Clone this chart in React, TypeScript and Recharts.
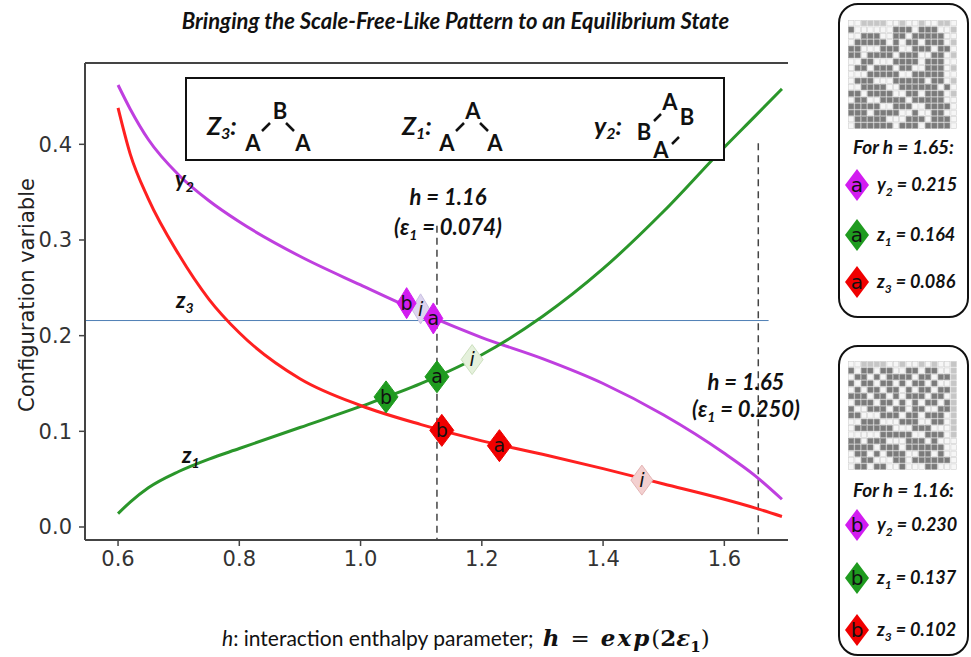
import React from 'react';
import { ComposedChart, Line, Scatter, XAxis, YAxis, ReferenceLine } from 'recharts';

// h 값과 세 가지 구성 변수 곡선
const hVals = [0.6, 0.62, 0.65, 0.7, 0.75, 0.8, 0.9, 1.0, 1.1, 1.2, 1.3, 1.4, 1.5, 1.6, 1.65, 1.695];
const y2Vals = [0.462, 0.437, 0.405, 0.368, 0.341, 0.319, 0.283, 0.253, 0.224, 0.198, 0.176, 0.15, 0.117, 0.077, 0.054, 0.029];
const z1Vals = [0.014, 0.026, 0.041, 0.058, 0.071, 0.082, 0.104, 0.126, 0.15, 0.18, 0.22, 0.27, 0.33, 0.397, 0.429, 0.458];
const z3Vals = [0.438, 0.39, 0.343, 0.285, 0.238, 0.203, 0.155, 0.127, 0.107, 0.09, 0.076, 0.061, 0.045, 0.029, 0.02, 0.011];

// 마커 (a, b, i)
const purpleMarks = [
  { h: 1.076, v: 0.234, tag: 'b' },
  { h: 1.12, v: 0.218, tag: 'a' },
];
const greenMarks = [
  { h: 1.042, v: 0.136, tag: 'b' },
  { h: 1.126, v: 0.157, tag: 'a' },
];
const redMarks = [
  { h: 1.134, v: 0.101, tag: 'b' },
  { h: 1.229, v: 0.085, tag: 'a' },
];
const purpleI = [{ h: 1.099, v: 0.228, tag: 'i' }];
const greenI = [{ h: 1.184, v: 0.175, tag: 'i' }];
const redI = [{ h: 1.464, v: 0.049, tag: 'i' }];

const xTicks = [0.6, 0.8, 1.0, 1.2, 1.4, 1.6];
const yTicks = [0.0, 0.1, 0.2, 0.3, 0.4];
const xDomain = [0.5455, 1.705];
const yDomain = [-0.0136, 0.485];

const hLow = 1.126; // 점선 (h = 1.16 표시)
const hLowTop = 0.315;
const hHigh = 1.656; // 점선 (h = 1.65 표시)
const hHighTop = 0.401;
const refY = 0.2158; // 수평선
const refYEnd = 1.673;

// 격자 그림 (1 = 진한 칸, 0 = 밝은 칸, 2 = 회색)
const grid165 = [
  '00222200200200220',
  '10000001110111002',
  '00111001101111100',
  '01111101011011102',
  '11000111001110110',
  '11011110111001102',
  '00110001111011100',
  '01101110110011102',
  '00011111001111100',
  '01110001111101102',
  '00111100111111010',
  '11011110011011102',
  '01100111101111100',
  '11111001110011110',
  '11101111001001100',
  '01111100011101110',
  '01111110111011110',
];
const grid116 = [
  '00222200200202002',
  '10110110011011002',
  '01101011110110112',
  '10110110101101002',
  '01011011010110112',
  '11101101011101102',
  '01110110101011012',
  '10011101101100112',
  '11000111011011102',
  '00111000111001102',
  '01111110001110002',
  '00000111110011102',
  '11011100011101000',
  '11110111011111100',
  '01101011100110100',
  '00110001101111110',
  '01101100100011000',
];

const legend165 = [
  { name: 'y', sub: '2', val: '0.215', color: '#d21cf0', tag: 'a' },
  { name: 'z', sub: '1', val: '0.164', color: '#1f9b1f', tag: 'a' },
  { name: 'z', sub: '3', val: '0.086', color: '#f00000', tag: 'a' },
];
const legend116 = [
  { name: 'y', sub: '2', val: '0.230', color: '#d21cf0', tag: 'b' },
  { name: 'z', sub: '1', val: '0.137', color: '#1f9b1f', tag: 'b' },
  { name: 'z', sub: '3', val: '0.102', color: '#f00000', tag: 'b' },
];

const chartData = hVals.map((h, i) => ({ h, y2: y2Vals[i], z1: z1Vals[i], z3: z3Vals[i] }));

const CAL = 'Lato, "Liberation Sans", sans-serif';

const diamond = (fill: string, stroke: string, w: number, ht: number) => (props: any) => {
  const { cx, cy, payload } = props;
  if (cx == null || cy == null) return <g />;
  return (
    <g>
      <polygon
        points={`${cx},${cy - ht / 2} ${cx + w / 2},${cy} ${cx},${cy + ht / 2} ${cx - w / 2},${cy}`}
        fill={fill}
        stroke={stroke}
        strokeWidth={1}
      />
      <text
        x={cx}
        y={cy}
        dy="0.35em"
        textAnchor="middle"
        fontSize={19}
        fontFamily="DejaVu Sans"
        fontStyle={payload.tag === 'i' ? 'italic' : 'normal'}
        fill="#111"
      >
        {payload.tag}
      </text>
    </g>
  );
};

const GridPic = ({ rows, left, top }: { rows: string[]; left: number; top: number }) => {
  const cell = 6.4;
  return (
    <svg style={{ position: 'absolute', left, top }} width={rows[0].length * cell} height={rows.length * cell}>
      {rows.map((r, ri) =>
        r.split('').map((c, ci) => (
          <rect
            key={`${ri}-${ci}`}
            x={ci * cell + 0.5}
            y={ri * cell + 0.5}
            width={cell - 1}
            height={cell - 1}
            fill={c === '1' ? '#7b7b7b' : c === '2' ? '#c6c6c6' : '#f6f6f6'}
            stroke={c === '1' ? '#999' : '#cfcfcf'}
            strokeWidth={0.6}
          />
        ))
      )}
    </svg>
  );
};

const LegendItem = ({ item, top }: { item: any; top: number }) => (
  <div style={{ position: 'absolute', left: 845, top: top - 16, height: 32, width: 125 }}>
    <svg width={26} height={32} style={{ position: 'absolute', left: 0, top: 0 }}>
      <polygon points="12,0 24,16 12,32 0,16" fill={item.color} />
      <text x={12} y={16} dy="0.35em" textAnchor="middle" fontSize={20} fontFamily="DejaVu Sans" fill="#111">
        {item.tag}
      </text>
    </svg>
    <div
      style={{
        position: 'absolute',
        left: 32,
        top: 4,
        fontFamily: CAL,
        fontWeight: 'bold',
        fontStyle: 'italic',
        fontSize: 18,
        whiteSpace: 'nowrap',
        color: '#111',
      }}
    >
      {item.name}
      <sub style={{ fontSize: 12 }}>{item.sub}</sub> = {item.val}
    </div>
  </div>
);

const Panel = ({ top, height }: { top: number; height: number }) => (
  <div
    style={{
      position: 'absolute',
      left: 838,
      top,
      width: 131,
      height,
      border: '2.5px solid #111',
      borderRadius: 20,
      boxSizing: 'border-box',
      background: '#fff',
    }}
  />
);

const txt = (extra: React.CSSProperties): React.CSSProperties => ({
  position: 'absolute',
  fontFamily: CAL,
  fontWeight: 'bold',
  fontStyle: 'italic',
  whiteSpace: 'nowrap',
  color: '#111',
  ...extra,
});

export default function App() {
  return (
    <div style={{ position: 'absolute', left: 0, top: 0, width: 971, height: 657, background: '#fff', overflow: 'hidden' }}>
      <div style={txt({ left: 0, top: 7, width: 911, textAlign: 'center', fontSize: 22 })}>
        Bringing the Scale-Free-Like Pattern to an Equilibrium State
      </div>

      <div style={{ position: 'absolute', left: 0, top: 0 }}>
        <ComposedChart width={830} height={600} data={chartData} margin={{ top: 63, right: 42, bottom: 30, left: 45 }}>
          <XAxis
            dataKey="h"
            type="number"
            domain={xDomain}
            ticks={xTicks}
            allowDataOverflow
            axisLine={{ stroke: '#444', strokeWidth: 2 }}
            tickLine={{ stroke: '#444', strokeWidth: 1.5 }}
            tickSize={6}
            tickMargin={5}
            height={30}
            tickFormatter={(v: number) => v.toFixed(1)}
            tick={{ fill: '#333', fontSize: 21, fontFamily: 'DejaVu Sans' }}
          />
          <YAxis
            type="number"
            domain={yDomain}
            ticks={yTicks}
            allowDataOverflow
            axisLine={{ stroke: '#444', strokeWidth: 2 }}
            tickLine={{ stroke: '#444', strokeWidth: 1.5 }}
            tickSize={6}
            tickMargin={7}
            width={40}
            tickFormatter={(v: number) => v.toFixed(1)}
            tick={{ fill: '#333', fontSize: 21, fontFamily: 'DejaVu Sans' }}
          />
          <ReferenceLine
            segment={[{ x: xDomain[0], y: yDomain[1] }, { x: xDomain[1], y: yDomain[1] }]}
            stroke="#444"
            strokeWidth={2}
          />
          <ReferenceLine
            segment={[{ x: xDomain[0], y: refY }, { x: refYEnd, y: refY }]}
            stroke="#4f7fb5"
            strokeWidth={1}
          />
          <ReferenceLine
            segment={[{ x: hLow, y: hLowTop }, { x: hLow, y: yDomain[0] }]}
            stroke="#444"
            strokeWidth={1.5}
            strokeDasharray="7 5"
          />
          <ReferenceLine
            segment={[{ x: hHigh, y: hHighTop }, { x: hHigh, y: yDomain[0] }]}
            stroke="#444"
            strokeWidth={1.5}
            strokeDasharray="7 5"
          />
          <Line dataKey="y2" type="monotone" stroke="#bf3fdf" strokeWidth={3} dot={false} isAnimationActive={false} />
          <Line dataKey="z1" type="monotone" stroke="#2a962a" strokeWidth={3} dot={false} isAnimationActive={false} />
          <Line dataKey="z3" type="monotone" stroke="#ff2020" strokeWidth={3} dot={false} isAnimationActive={false} />
          <Scatter data={purpleI} dataKey="v" shape={diamond('#ddd5ef', '#c9c0e2', 18, 30)} isAnimationActive={false} />
          <Scatter data={greenI} dataKey="v" shape={diamond('#e5f1dc', '#cde0bf', 22, 30)} isAnimationActive={false} />
          <Scatter data={redI} dataKey="v" shape={diamond('#f3d0d0', '#e4b4b4', 22, 30)} isAnimationActive={false} />
          <Scatter data={purpleMarks} dataKey="v" shape={diamond('#d21cf0', '#d21cf0', 19, 31)} isAnimationActive={false} />
          <Scatter data={greenMarks} dataKey="v" shape={diamond('#1f9b1f', '#1f9b1f', 24, 32)} isAnimationActive={false} />
          <Scatter data={redMarks} dataKey="v" shape={diamond('#f00000', '#f00000', 24, 32)} isAnimationActive={false} />
        </ComposedChart>
      </div>

      {/* 축 제목 */}
      <div
        style={{
          position: 'absolute',
          left: 27,
          top: 295,
          transform: 'translate(-50%, -50%) rotate(-90deg)',
          fontFamily: 'DejaVu Sans',
          fontSize: 21,
          color: '#222',
          whiteSpace: 'nowrap',
        }}
      >
        Configuration variable
      </div>
      <div style={{ position: 'absolute', left: 222, top: 624, fontFamily: CAL, fontSize: 21, color: '#111', whiteSpace: 'nowrap' }}>
        <i>h</i>: interaction enthalpy parameter;{' '}
        <span style={{ fontFamily: '"DejaVu Serif", serif', fontSize: 23, marginLeft: 4 }}>
          <b><i>h</i></b>
          <span style={{ margin: '0 11px' }}>=</span>
          <b><i style={{ letterSpacing: 2 }}>exp</i></b>(<b>2</b><b><i>ε</i></b>
          <sub style={{ fontSize: 15 }}><b>1</b></sub>)
        </span>
      </div>

      {/* 곡선 이름 */}
      <div style={txt({ left: 175, top: 165, fontSize: 22 })}>
        y<sub style={{ fontSize: 14 }}>2</sub>
      </div>
      <div style={txt({ left: 176, top: 286, fontSize: 22 })}>
        z<sub style={{ fontSize: 14 }}>3</sub>
      </div>
      <div style={txt({ left: 182, top: 441, fontSize: 22 })}>
        z<sub style={{ fontSize: 14 }}>1</sub>
      </div>

      {/* 점선 주석 */}
      <div style={txt({ left: 343, top: 182, width: 210, textAlign: 'center', fontSize: 22, lineHeight: '30px' })}>
        h = 1.16
        <br />
        (ε<sub style={{ fontSize: 14 }}>1</sub> = 0.074)
      </div>
      <div style={txt({ left: 641, top: 368, width: 210, textAlign: 'center', fontSize: 22, lineHeight: '27px' })}>
        h = 1.65
        <br />
        (ε<sub style={{ fontSize: 14 }}>1</sub> = 0.250)
      </div>

      {/* 구조 상자 */}
      <div
        style={{
          position: 'absolute',
          left: 185,
          top: 77,
          width: 540,
          height: 84,
          border: '2.5px solid #111',
          boxSizing: 'border-box',
          background: '#fff',
        }}
      />
      <svg style={{ position: 'absolute', left: 0, top: 0 }} width={971} height={200}>
        <g fontFamily={CAL} fontWeight="bold" fill="#111">
          <text x={207} y={135} fontSize={25} fontStyle="italic">
            Z<tspan fontSize={16} dy={4}>3</tspan>
            <tspan dy={-4}>:</tspan>
          </text>
          <text x={280} y={119} fontSize={22} textAnchor="middle">B</text>
          <text x={253} y={151} fontSize={22} textAnchor="middle">A</text>
          <text x={303} y={151} fontSize={22} textAnchor="middle">A</text>
          <line x1={262} y1={131} x2={270} y2={123} stroke="#111" strokeWidth={2.5} />
          <line x1={286} y1={123} x2={294} y2={131} stroke="#111" strokeWidth={2.5} />

          <text x={402} y={135} fontSize={25} fontStyle="italic">
            Z<tspan fontSize={16} dy={4}>1</tspan>
            <tspan dy={-4}>:</tspan>
          </text>
          <text x={473} y={119} fontSize={22} textAnchor="middle">A</text>
          <text x={447} y={151} fontSize={22} textAnchor="middle">A</text>
          <text x={495} y={151} fontSize={22} textAnchor="middle">A</text>
          <line x1={456} y1={131} x2={464} y2={123} stroke="#111" strokeWidth={2.5} />
          <line x1={480} y1={123} x2={488} y2={131} stroke="#111" strokeWidth={2.5} />

          <text x={594} y={135} fontSize={25} fontStyle="italic">
            y<tspan fontSize={16} dy={4}>2</tspan>
            <tspan dy={-4}>:</tspan>
          </text>
          <text x={670} y={110} fontSize={22} textAnchor="middle">A</text>
          <text x={687} y={125} fontSize={22} textAnchor="middle">B</text>
          <text x={644} y={140} fontSize={22} textAnchor="middle">B</text>
          <text x={661} y={158} fontSize={22} textAnchor="middle">A</text>
          <line x1={654} y1={121} x2={661} y2={114} stroke="#111" strokeWidth={2.5} />
          <line x1={679} y1={137} x2={672} y2={144} stroke="#111" strokeWidth={2.5} />
        </g>
      </svg>

      {/* 오른쪽 패널 */}
      <Panel top={3} height={315} />
      <GridPic rows={grid165} left={848} top={20} />
      <div style={txt({ left: 838, top: 135, width: 131, textAlign: 'center', fontSize: 19 })}>For h = 1.65:</div>
      <LegendItem item={legend165[0]} top={185} />
      <LegendItem item={legend165[1]} top={235} />
      <LegendItem item={legend165[2]} top={282} />

      <Panel top={345} height={311} />
      <GridPic rows={grid116} left={848} top={361} />
      <div style={txt({ left: 838, top: 478, width: 131, textAlign: 'center', fontSize: 19 })}>For h = 1.16:</div>
      <LegendItem item={legend116[0]} top={525} />
      <LegendItem item={legend116[1]} top={578} />
      <LegendItem item={legend116[2]} top={630} />
    </div>
  );
}
